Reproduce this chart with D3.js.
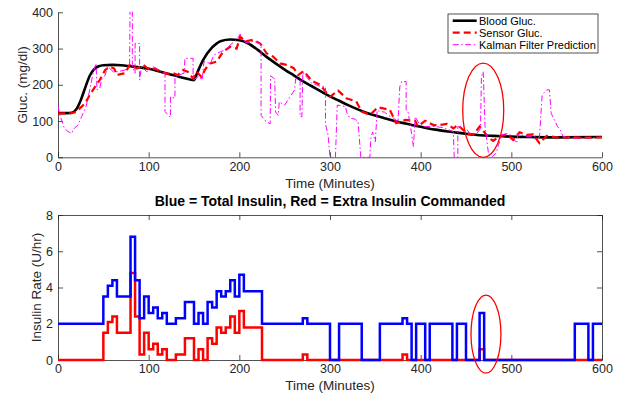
<!DOCTYPE html>
<html>
<head>
<meta charset="utf-8">
<script src="https://d3js.org/d3.v7.min.js"></script>
<style>
    body { margin: 0; background: #fff; }
    svg { display: block; font-family: "Liberation Sans", Arial, Helvetica, sans-serif; }
    .axis text { fill: #262626; font-size: 12.5px; }
    .axis path, .axis line { stroke: #262626; stroke-width: 0.8; }
    .label { fill: #262626; font-size: 13.5px; }
</style>
</head>
<body>
<svg id="chart" width="621" height="397"></svg>
<script>
// Data.
const bloodTime = [0, 10, 15, 20, 25, 30, 35, 40, 45, 50, 60, 70, 80, 90, 100, 110, 120, 130, 140, 150, 153, 160, 170, 180, 190, 200, 210, 220, 230, 240, 250, 260, 270, 280, 290, 300, 310, 320, 330, 340, 350, 360, 370, 380, 390, 400, 410, 420, 430, 440, 450, 460, 470, 480, 490, 500, 520, 550, 600];
const bloodGluc = [122, 122, 123, 132, 157, 192, 225, 243, 251, 254, 255, 254, 251, 248, 244, 238, 231, 225, 218, 213, 230, 268, 303, 321, 325, 323, 314, 297, 277, 259, 242, 226, 210, 196, 182, 168, 156, 144, 133, 123, 115, 108, 101, 95, 89, 84, 79, 75, 71, 68, 65, 62, 60, 59, 58, 57, 56, 55, 56];

const sensorTime = [0, 5, 10, 15, 20, 24, 30, 35, 41, 46, 52, 57, 62, 65, 70, 74, 79, 87, 94, 101, 107, 112, 118, 123, 127, 132, 138, 143, 149, 153, 158, 163, 168, 175, 182, 190, 197, 201, 206, 215, 223, 230, 237, 245, 252, 260, 265, 271, 280, 289, 300, 309, 318, 329, 335, 344, 353, 366, 373, 383, 394, 397, 405, 414, 421, 429, 436, 441, 451, 458, 465, 470, 476, 480, 487, 495, 502, 509, 517, 524, 531, 539, 550, 565, 580, 600];
const sensorGluc = [121, 121, 121, 122, 125, 135, 149, 172, 195, 213, 241, 250, 245, 227, 230, 232, 255, 245, 255, 241, 245, 238, 232, 230, 232, 227, 241, 236, 218, 236, 222, 245, 259, 264, 291, 305, 300, 333, 319, 324, 314, 287, 278, 259, 255, 246, 227, 238, 211, 200, 167, 184, 163, 154, 126, 117, 138, 131, 94, 103, 101, 85, 101, 89, 89, 92, 80, 89, 66, 62, 85, 70, 52, 45, 58, 63, 48, 69, 62, 63, 39, 59, 55, 55, 54, 55];

const kalmanTime = [0, 2, 7, 11, 15, 18, 22, 26, 31, 35, 39, 42, 43, 46, 48, 52, 55, 61, 66, 74, 79, 79.5, 82, 82, 85, 85, 90, 90, 92, 98, 105, 113, 118, 118, 124, 124, 129, 129, 139, 140, 149, 149, 155, 159, 161, 168, 172, 179, 184, 190, 197, 201, 207, 216, 224, 224, 228, 234, 234.5, 239, 240, 243, 244, 250, 256, 261, 262, 267, 267, 269, 270, 280, 290, 295, 295, 298, 300, 306, 308, 317, 319, 322, 328, 331, 334, 344, 345, 347, 350, 352, 355, 360, 365, 370, 375, 377, 379, 384, 384, 386, 390, 392, 394, 398, 404, 415, 425, 436, 437, 441, 441, 450, 454, 462, 466, 467, 469, 471, 475, 478, 483, 487, 489, 497, 500, 506, 507, 517, 524, 531, 534, 539, 542, 544, 551, 555, 557, 570, 600];
const kalmanPred = [142, 117, 80, 71, 66, 80, 89, 112, 140, 186, 236, 259, 186, 190, 213, 227, 250, 236, 236, 241, 250, 430, 430, 250, 232, 314, 314, 213, 250, 236, 250, 236, 232, 126, 110, 167, 163, 223, 232, 273, 273, 213, 223, 213, 264, 259, 282, 291, 296, 310, 324, 340, 316, 320, 312, 116, 102, 92, 225, 216, 125, 116, 153, 144, 167, 186, 216, 222, 112, 112, 234, 204, 195, 195, 92, 60, 0, 0, 144, 140, 120, 108, 105, 98, 0, 0, 52, 70, 43, 130, 126, 125, 115, 108, 98, 195, 209, 209, 130, 126, 66, 29, 112, 94, 85, 85, 82, 71, 0, 0, 85, 80, 66, 66, 80, 222, 236, 85, 6, 0, 11, 43, 62, 66, 60, 39, 64, 57, 57, 55, 172, 186, 186, 121, 85, 71, 57, 53, 55];

const insulinTime = [0, 50, 55, 60, 65, 80, 85, 90, 95, 100, 105, 110, 115, 120, 130, 140, 150, 155, 160, 165, 170, 175, 180, 185, 190, 195, 200, 205, 225, 270, 275, 300, 310, 335, 355, 380, 385, 390, 395, 405, 410, 435, 440, 450, 465, 470, 570, 585, 590, 600];
const totalInsulin = [2, 3.5, 4.1, 4.4, 3.5, 6.8, 4.4, 2.3, 3.5, 2.6, 2.9, 2.3, 2.6, 2, 2.3, 3.2, 2, 2.6, 2, 3.2, 2.9, 3.8, 3.5, 3.8, 4.4, 3.5, 4.7, 3.8, 2, 2.3, 2, 0, 2, 0, 2, 2.3, 2, 0, 2, 0, 2, 0, 2, 0, 2.6, 0, 2, 0, 2, 2];

const extraTime = [0, 50, 55, 60, 65, 80, 85, 90, 95, 100, 105, 110, 115, 120, 130, 140, 150, 155, 160, 165, 170, 175, 180, 185, 190, 195, 200, 205, 225, 270, 275, 380, 385, 465, 470, 600];
const extraInsulin = [0, 1.5, 2.1, 2.4, 1.5, 4.8, 2.4, 0.3, 1.5, 0.6, 0.9, 0.3, 0.6, 0, 0.3, 1.2, 0, 0.6, 0, 1.2, 0.9, 1.8, 1.5, 1.8, 2.4, 1.5, 2.7, 1.8, 0, 0.3, 0, 0.3, 0, 0.6, 0, 0];

const timeTicks = [0, 100, 200, 300, 400, 500, 600];
const glucTicks = [0, 100, 200, 300, 400];
const insulinTicks = [0, 2, 4, 6, 8];
const legendLabels = ['Blood Gluc.', 'Sensor Gluc.', 'Kalman Filter Prediction'];
const titleText = 'Blue = Total Insulin, Red = Extra Insulin Commanded';

// Circled events, in data units: centre time, centre value, half width, half height.
const glucCircle = [469, 130, 22.6, 130];
const insulinCircle = [472, 1.43, 16.5, 2.15];

// Constants.
const X0 = 58;
const X1 = 602;
const TOP = {y0: 157.3, y1: 12.3};
const BOT = {y0: 360, y1: 215};
const TICK = 5;

const svg = d3.select('#chart');
const zip = (a, b) => a.map((d, i) => [d, b[i]]);

const x = d3.scaleLinear().domain([0, 600]).range([X0, X1]);
const yGluc = d3.scaleLinear().domain([0, 400]).range([TOP.y0, TOP.y1]);
const yIns = d3.scaleLinear().domain([0, 8]).range([BOT.y0, BOT.y1]);

// Top panel: glucose.
svg.append('defs').append('clipPath')
    .attr('id', 'clip-top')
    .append('rect')
    .attr('x', X0)
    .attr('y', TOP.y1 - 0.5)
    .attr('width', X1 - X0)
    .attr('height', TOP.y0 - TOP.y1 + 1);

const topPanel = svg.append('g');

topPanel.append('g')
    .attr('class', 'axis')
    .attr('transform', `translate(0,${TOP.y0})`)
    .call(d3.axisBottom(x).tickValues(timeTicks).tickSizeInner(-TICK).tickSizeOuter(0).tickPadding(5));
topPanel.append('g')
    .attr('class', 'axis')
    .attr('transform', `translate(${X0},0)`)
    .call(d3.axisLeft(yGluc).tickValues(glucTicks).tickSizeInner(-TICK).tickSizeOuter(0).tickPadding(5));

const glucLine = d3.line().x(d => x(d[0])).y(d => yGluc(d[1]));
const plot = topPanel.append('g').attr('clip-path', 'url(#clip-top)');

plot.append('path')
    .datum(zip(bloodTime, bloodGluc))
    .attr('fill', 'none')
    .attr('stroke', '#000')
    .attr('stroke-width', 2.6)
    .attr('d', glucLine.curve(d3.curveMonotoneX));
plot.append('path')
    .datum(zip(sensorTime, sensorGluc))
    .attr('fill', 'none')
    .attr('stroke', '#ff0000')
    .attr('stroke-width', 2.2)
    .attr('stroke-dasharray', '7,4')
    .attr('d', glucLine.curve(d3.curveLinear));
plot.append('path')
    .datum(zip(kalmanTime, kalmanPred))
    .attr('fill', 'none')
    .attr('stroke', '#ff00ff')
    .attr('stroke-width', 1)
    .attr('stroke-dasharray', '6,2.5,1.5,2.5')
    .attr('d', glucLine.curve(d3.curveLinear));

topPanel.append('text')
    .attr('class', 'label')
    .attr('x', (X0 + X1) / 2)
    .attr('y', 188)
    .attr('text-anchor', 'middle')
    .text('Time (Minutes)');
topPanel.append('text')
    .attr('class', 'label')
    .attr('transform', `translate(27,${(TOP.y0 + TOP.y1) / 2}) rotate(-90)`)
    .attr('text-anchor', 'middle')
    .text('Gluc. (mg/dl)');

// Legend.
const legend = topPanel.append('g').attr('transform', 'translate(448,14)');
legend.append('rect')
    .attr('width', 150)
    .attr('height', 39)
    .attr('fill', '#fff')
    .attr('stroke', '#262626')
    .attr('stroke-width', 0.8);
const styles = [
    {stroke: '#000', width: 2.6, dash: null},
    {stroke: '#ff0000', width: 2.2, dash: '7,4'},
    {stroke: '#ff00ff', width: 1, dash: '6,2.5,1.5,2.5'}
];
legendLabels.forEach((label, i) => {
    const row = legend.append('g').attr('transform', `translate(0,${6.7 + i * 12})`);
    row.append('line')
        .attr('x1', 4.7)
        .attr('x2', 28.7)
        .attr('stroke', styles[i].stroke)
        .attr('stroke-width', styles[i].width)
        .attr('stroke-dasharray', styles[i].dash);
    row.append('text')
        .attr('x', 31)
        .attr('dy', '0.35em')
        .attr('fill', '#000')
        .style('font-size', '11px')
        .text(label);
});

// Bottom panel: insulin.
const bottomPanel = svg.append('g');

bottomPanel.append('g')
    .attr('class', 'axis')
    .attr('transform', `translate(0,${BOT.y0})`)
    .call(d3.axisBottom(x).tickValues(timeTicks).tickSizeInner(-TICK).tickSizeOuter(0).tickPadding(4));
bottomPanel.append('g')
    .attr('class', 'axis')
    .attr('transform', `translate(0,${BOT.y1})`)
    .call(d3.axisTop(x).tickValues(timeTicks).tickSizeInner(-TICK).tickSizeOuter(0).tickFormat(''));
bottomPanel.append('g')
    .attr('class', 'axis')
    .attr('transform', `translate(${X0},0)`)
    .call(d3.axisLeft(yIns).tickValues(insulinTicks).tickSizeInner(-TICK).tickSizeOuter(0).tickPadding(5));
bottomPanel.append('g')
    .attr('class', 'axis')
    .attr('transform', `translate(${X1},0)`)
    .call(d3.axisRight(yIns).tickValues(insulinTicks).tickSizeInner(-TICK).tickSizeOuter(0).tickFormat(''));

const stairs = d3.line()
    .x(d => x(d[0]))
    .y(d => yIns(d[1]))
    .curve(d3.curveStepAfter);

bottomPanel.append('path')
    .datum(zip(extraTime, extraInsulin))
    .attr('fill', 'none')
    .attr('stroke', '#ff0000')
    .attr('stroke-width', 2.5)
    .attr('d', stairs);
bottomPanel.append('path')
    .datum(zip(insulinTime, totalInsulin))
    .attr('fill', 'none')
    .attr('stroke', '#0000ff')
    .attr('stroke-width', 2.5)
    .attr('d', stairs);

bottomPanel.append('text')
    .attr('x', (X0 + X1) / 2)
    .attr('y', 206)
    .attr('text-anchor', 'middle')
    .attr('fill', '#000')
    .style('font-size', '14px')
    .style('font-weight', 'bold')
    .text(titleText);
bottomPanel.append('text')
    .attr('class', 'label')
    .attr('x', (X0 + X1) / 2)
    .attr('y', 390)
    .attr('text-anchor', 'middle')
    .text('Time (Minutes)');
bottomPanel.append('text')
    .attr('class', 'label')
    .attr('transform', `translate(41,${(BOT.y0 + BOT.y1) / 2}) rotate(-90)`)
    .attr('text-anchor', 'middle')
    .text('Insulin Rate (U/hr)');

// Red circles round the spike.
const ellipse = (g, c, y) => g.append('ellipse')
    .attr('cx', x(c[0]))
    .attr('cy', y(c[1]))
    .attr('rx', x(c[0] + c[2]) - x(c[0]))
    .attr('ry', y(c[1] - c[3]) - y(c[1]))
    .attr('fill', 'none')
    .attr('stroke', '#ff0000')
    .attr('stroke-width', 1.3);
ellipse(topPanel, glucCircle, yGluc);
ellipse(bottomPanel, insulinCircle, yIns);
</script>
</body>
</html>
